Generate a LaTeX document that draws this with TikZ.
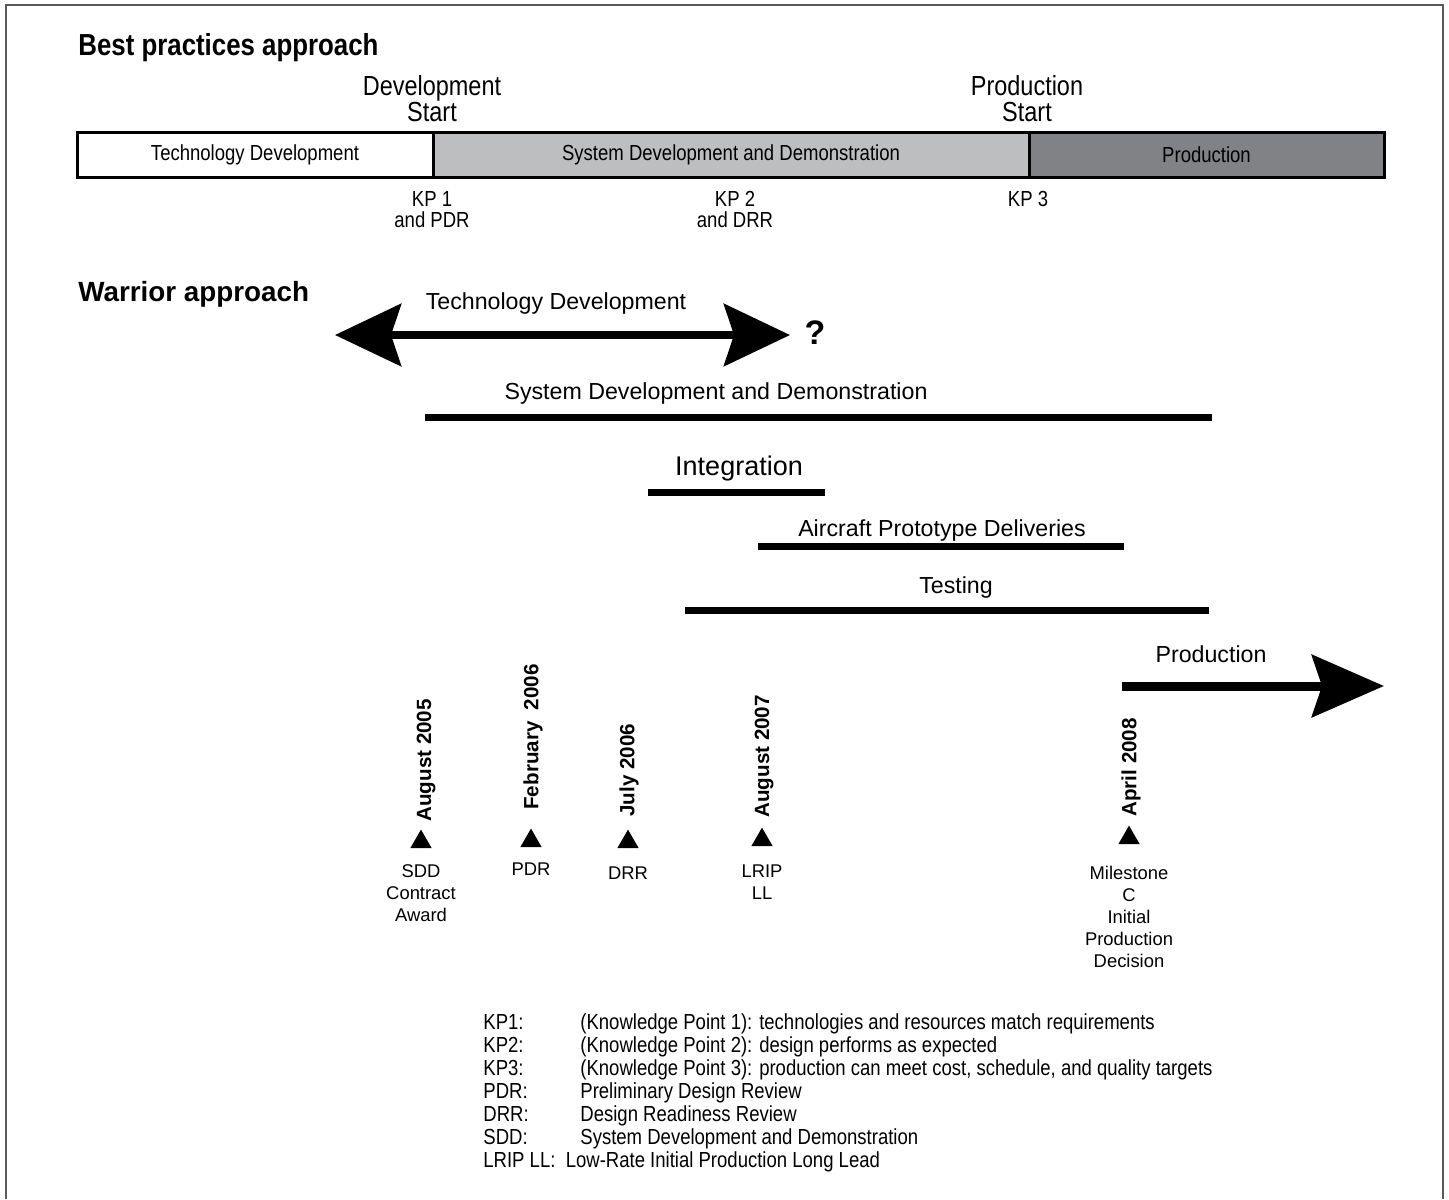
\documentclass[tikz,border=0pt]{standalone}
\usepackage{fontspec}
\setmainfont{Liberation Sans}
\newfontfamily\narrowfont[FakeStretch=0.85]{Liberation Sans}
\usepackage{xcolor}
\usepackage{tikz}
\usetikzlibrary{arrows.meta,positioning,shapes.geometric}
\definecolor{sddgray}{HTML}{BCBEC0}
\definecolor{prodgray}{HTML}{808285}
\tikzstyle{frame} = [draw=black!65, line width=0.8pt]
\tikzstyle{title} = [anchor=base west, inner sep=0pt]
\tikzstyle{phase} = [rectangle, draw=black, line width=1.5pt, minimum height=22.5pt,%
    inner sep=0pt, outer sep=0pt, text centered, font=\narrowfont\fontsize{10.9}{13}\selectfont]
\tikzstyle{head} = [align=center, anchor=south, inner sep=0pt,%
    font=\narrowfont\fontsize{13.8}{13}\selectfont]
\tikzstyle{kp} = [align=center, anchor=north, inner sep=0pt,%
    font=\narrowfont\fontsize{10.9}{10.5}\selectfont]
\tikzstyle{span} = [anchor=base, inner sep=0pt, font=\fontsize{11.6}{14}\selectfont]
\tikzstyle{bar} = [line width=3.5pt]
\tikzstyle{bigarrow} = [line width=4pt, {Stealth[length=33pt,width=31pt,inset=5pt]}-{Stealth[length=33pt,width=31pt,inset=5pt]}]
\tikzstyle{prodarrow} = [line width=4.5pt, -{Stealth[length=36pt,width=31pt,inset=5pt]}]
\tikzstyle{tri} = [regular polygon, regular polygon sides=3, fill=black,%
    minimum size=12.4pt, inner sep=0pt, outer sep=0pt]
\tikzstyle{date} = [rotate=90, anchor=west, inner sep=0pt, font=\bfseries\fontsize{10.3}{12}\selectfont]
\tikzstyle{note} = [align=center, anchor=north, inner sep=0pt, font=\fontsize{9.2}{11}\selectfont]

\begin{document}
\begin{tikzpicture}[x=0.5pt, y=-0.5pt]
    \useasboundingbox (0,0) rectangle (1449,1199);
    \draw [frame] (6,1199) -- (6,5) -- (1443,5) -- (1443,1199);

    % best practices
    \node (bp) [title, font=\narrowfont\bfseries\fontsize{15.2}{18}\selectfont] at (78,55) {Best practices approach};
    \node (td) [phase, fill=white, minimum width=178pt, anchor=north west] at (77,132) {Technology Development};
    \node (sdd) [phase, fill=sddgray, minimum width=298pt, anchor=west] at (td.east) {System Development and Demonstration};
    \node (prod) [phase, fill=prodgray, minimum width=177.5pt, anchor=west] at (sdd.east) {Production};
    \node (devstart) [head] at (432,122) {Development\\Start};
    \node (prodstart) [head] at (1027,122) {Production\\Start};
    \node (kp1) [kp] at (432,191) {KP 1\\and PDR};
    \node (kp2) [kp] at (735,191) {KP 2\\and DRR};
    \node (kp3) [kp] at (1028,191) {KP 3};

    % warrior
    \node (wa) [title, font=\bfseries\fontsize{13.9}{16}\selectfont] at (78,301) {Warrior approach};

    \coordinate (tdl) at (335,335);
    \coordinate (tdr) at (790,335);
    \draw [bigarrow] (tdl) -- (tdr);
    \node (tdlbl) [span] at (556,309) {Technology Development};
    \node (q) [font=\bfseries\fontsize{17}{20}\selectfont, inner sep=0pt] at (815,333) {?};

    \coordinate (sddl) at (425,417);
    \coordinate (sddr) at (1212,417);
    \draw [bar] (sddl) -- (sddr);
    \node (sddlbl) [span] at (716,399) {System Development and Demonstration};

    \coordinate (intl) at (648,492);
    \coordinate (intr) at (825,492);
    \draw [bar] (intl) -- (intr);
    \node (intlbl) [span, font=\fontsize{13.5}{16}\selectfont] at (739,475) {Integration};

    \coordinate (apdl) at (758,546);
    \coordinate (apdr) at (1124,546);
    \draw [bar] (apdl) -- (apdr);
    \node (apdlbl) [span] at (942,536) {Aircraft Prototype Deliveries};

    \coordinate (testl) at (685,610);
    \coordinate (testr) at (1209,610);
    \draw [bar] (testl) -- (testr);
    \node (testlbl) [span] at (956,593) {Testing};

    \coordinate (prl) at (1122,686);
    \coordinate (prr) at (1384,686);
    \draw [prodarrow] (prl) -- (prr);
    \node (prlbl) [span] at (1211,662) {Production};

    % milestones
    \node (m1) [tri] at (421,842) {};
    \node (m2) [tri] at (531,841) {};
    \node (m3) [tri] at (628,842) {};
    \node (m4) [tri] at (762,840) {};
    \node (m5) [tri] at (1129,838) {};
    \node (d1) [date] at (426,822) {August 2005};
    \node (d2) [date] at (533,810) {February\ \ 2006};
    \node (d3) [date] at (629,817) {July 2006};
    \node (d4) [date] at (764,818) {August 2007};
    \node (d5) [date] at (1131,817) {April 2008};
    \node (n1) [note, below=8pt of m1] {SDD\\Contract\\Award};
    \node (n2) [note, below=7.5pt of m2] {PDR};
    \node (n3) [note, below=9pt of m3] {DRR};
    \node (n4) [note, below=9pt of m4] {LRIP\\LL};
    \node (n5) [note, below=11pt of m5] {Milestone\\C\\Initial\\Production\\Decision};

    % key
    \node (key) [anchor=north west, inner sep=0pt, font=\narrowfont\fontsize{10.9}{11.5}\selectfont] at (483,1013) {%
        \begin{tabular}{@{}p{48.5pt}@{}l@{}}
        KP1: & (Knowledge Point 1): technologies and resources match requirements\\
        KP2: & (Knowledge Point 2): design performs as expected\\
        KP3: & (Knowledge Point 3): production can meet cost, schedule, and quality targets\\
        PDR: & Preliminary Design Review\\
        DRR: & Design Readiness Review\\
        SDD: & System Development and Demonstration\\
        \multicolumn{2}{@{}l@{}}{LRIP LL:\ \ Low-Rate Initial Production Long Lead}
        \end{tabular}};
\end{tikzpicture}
\end{document}
